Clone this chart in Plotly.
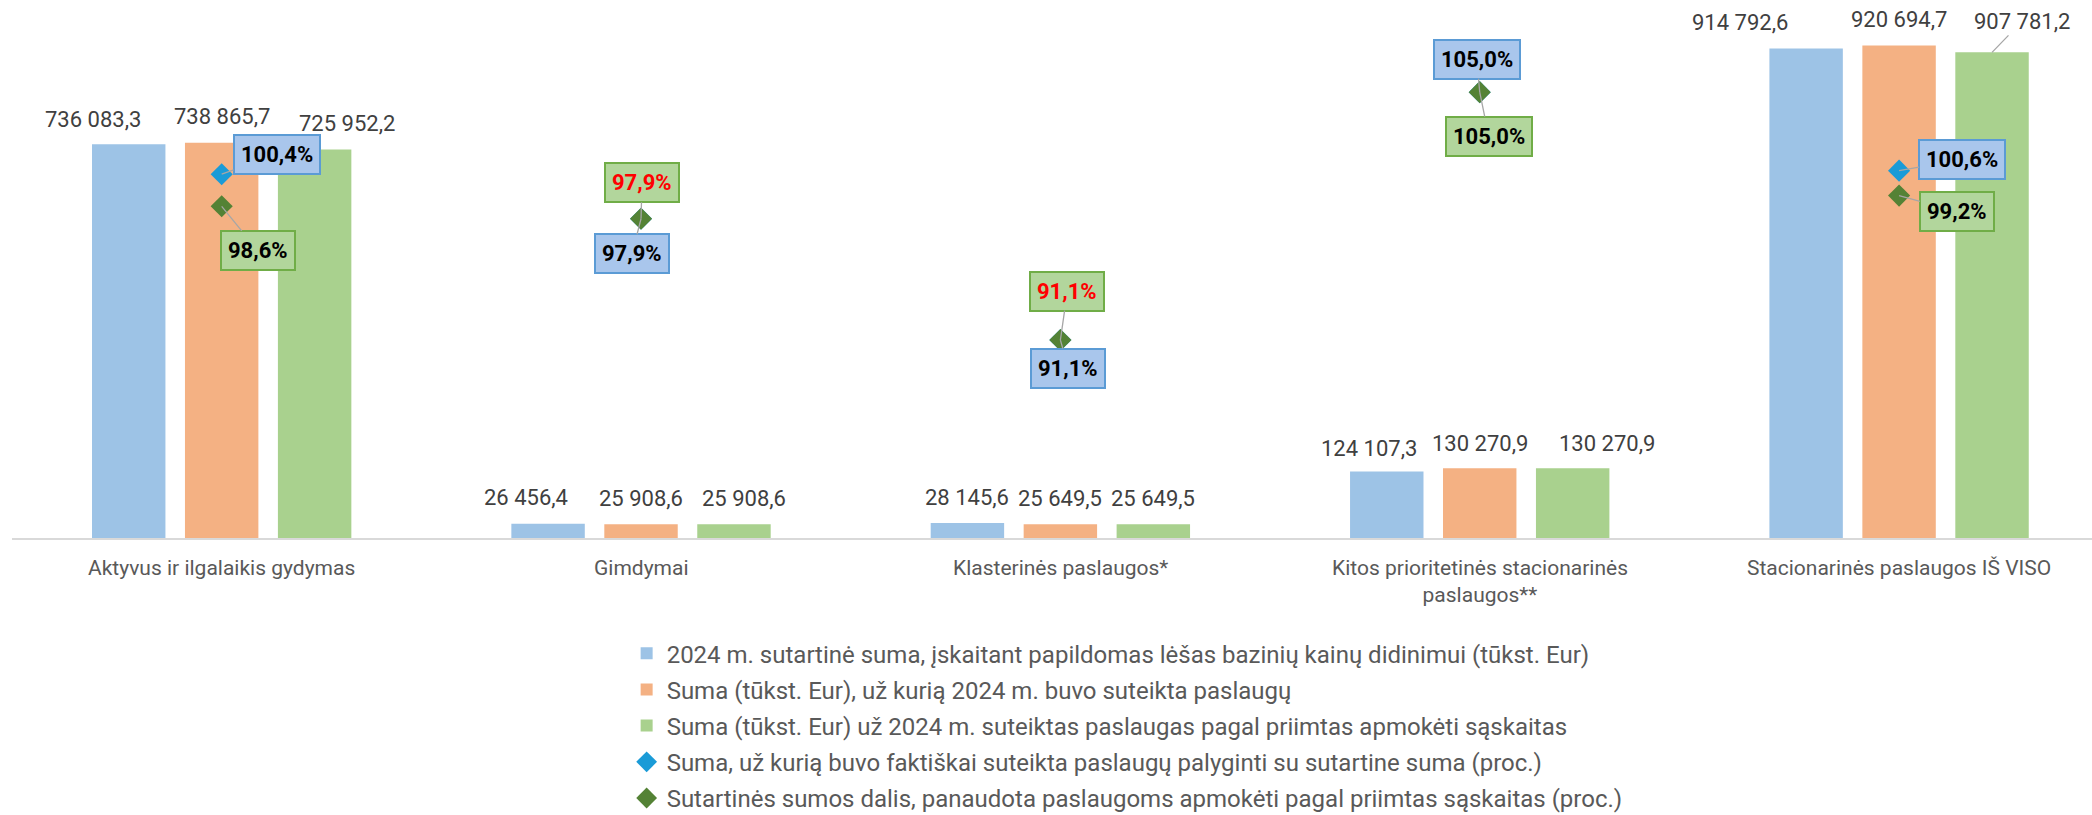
import plotly.graph_objects as go

# ---------------- data ----------------
categories = [
    "Aktyvus ir ilgalaikis gydymas",
    "Gimdymai",
    "Klasterinės paslaugos*",
    "Kitos prioritetinės stacionarinės<br>paslaugos**",
    "Stacionarinės paslaugos IŠ VISO",
]
contract_sum = [736083.3, 26456.4, 28145.6, 124107.3, 914792.6]
provided_sum = [738865.7, 25908.6, 25649.5, 130270.9, 920694.7]
accepted_sum = [725952.2, 25908.6, 25649.5, 130270.9, 907781.2]
provided_pct = [100.4, 97.9, 91.1, 105.0, 100.6]
accepted_pct = [98.6, 97.9, 91.1, 105.0, 99.2]

series_names = [
    "2024 m. sutartinė suma, įskaitant papildomas lėšas bazinių kainų didinimui (tūkst. Eur)",
    "Suma (tūkst. Eur), už kurią 2024 m. buvo suteikta paslaugų",
    "Suma (tūkst. Eur) už 2024 m. suteiktas paslaugas pagal priimtas apmokėti sąskaitas",
    "Suma, už kurią buvo faktiškai suteikta paslaugų palyginti su sutartine suma (proc.)",
    "Sutartinės sumos dalis, panaudota paslaugoms apmokėti pagal priimtas sąskaitas (proc.)",
]

# ---------------- style ----------------
FONT = "Roboto"
BAR_COLORS = ["#9DC3E6", "#F4B183", "#A9D18E"]
BLUE_DIAMOND = "#1A9BD7"
GREEN_DIAMOND = "#548235"
LABEL_COLOR = "#404040"
CAT_COLOR = "#595959"
BARGAP = 0.335
BARGROUPGAP = 0.21
SLOT = (1 - BARGAP) / 3

# label pixel shifts (x, y) for the bar value labels
bar_label_shift = [
    [(-36, 25), (-22, 26), (0, 25), (-18, 23), (-66, 26)],
    [(0, 26), (0, 26), (0, 26), (0, 25), (0, 26)],
    [(32, 26), (10, 26), (0, 26), (34, 25), (30, 31)],
]
# percent box offsets (ax, ay)
prov_box = [(55, -20), (-9, 35), (8, 28), (-3, -33), (63, -11)]
acc_box = [(36, 44), (1, -36), (7, -49), (9, 44), (58, 16)]
acc_red = [False, True, True, False, False]

x_idx = list(range(len(categories)))


def fmt_num(v):
    return f"{v:,.1f}".replace(",", " ").replace(".", ",")


def fmt_pct(v):
    return f"{v:.1f}%".replace(".", ",")


fig = go.Figure()
for k, vals in enumerate([contract_sum, provided_sum, accepted_sum]):
    fig.add_trace(go.Bar(
        x=x_idx, y=vals, name=series_names[k],
        marker=dict(color=BAR_COLORS[k], line=dict(width=0)),
        legendgroup=f"g{k}", hoverinfo="skip",
    ))

fig.add_trace(go.Scatter(
    x=x_idx, y=provided_pct, yaxis="y2", mode="markers", name=series_names[3],
    marker=dict(symbol="diamond", size=17, color=BLUE_DIAMOND),
    legendgroup="g3", hoverinfo="skip",
))
fig.add_trace(go.Scatter(
    x=x_idx, y=accepted_pct, yaxis="y2", mode="markers", name=series_names[4],
    marker=dict(symbol="diamond", size=17, color=GREEN_DIAMOND),
    legendgroup="g4", hoverinfo="skip",
))

annotations = []
# bar value labels
for k, vals in enumerate([contract_sum, provided_sum, accepted_sum]):
    for i, v in enumerate(vals):
        dx, dy = bar_label_shift[k][i]
        xpos = i + (k - 1) * SLOT
        if k == 2 and i == 4:
            annotations.append(dict(
                x=xpos, y=v, xref="x", yref="y", text=fmt_num(v),
                showarrow=True, arrowhead=0, arrowwidth=1.3, arrowcolor="#A6A6A6",
                ax=dx, ay=-dy, standoff=0,
                font=dict(family=FONT, size=22, color=LABEL_COLOR),
            ))
        else:
            annotations.append(dict(
                x=xpos, y=v, xref="x", yref="y", text=fmt_num(v),
                showarrow=False, xshift=dx, yshift=dy,
                font=dict(family=FONT, size=22, color=LABEL_COLOR),
            ))

# percent boxes
for i in x_idx:
    ax, ay = prov_box[i]
    annotations.append(dict(
        x=i, y=provided_pct[i], xref="x", yref="y2", text="<b>" + fmt_pct(provided_pct[i]) + "</b>",
        showarrow=True, arrowhead=0, arrowwidth=1.3, arrowcolor="#A6A6A6",
        ax=ax, ay=ay, standoff=0,
        bgcolor="#A9C6EC", bordercolor="#5B9BD5", borderwidth=2, borderpad=6,
        font=dict(family=FONT, size=22, color="#000000"),
    ))
    ax, ay = acc_box[i]
    annotations.append(dict(
        x=i, y=accepted_pct[i], xref="x", yref="y2", text="<b>" + fmt_pct(accepted_pct[i]) + "</b>",
        showarrow=True, arrowhead=0, arrowwidth=1.3, arrowcolor="#A6A6A6",
        ax=ax, ay=ay, standoff=0,
        bgcolor="#B2D69C", bordercolor="#70AD47", borderwidth=2, borderpad=6,
        font=dict(family=FONT, size=22, color="#FF0000" if acc_red[i] else "#000000"),
    ))

# category labels
for i, c in enumerate(categories):
    annotations.append(dict(
        x=i, y=0, xref="x", yref="paper", text=c, showarrow=False,
        yanchor="top", yshift=-16,
        font=dict(family=FONT, size=21, color=CAT_COLOR),
    ))

W, H = 2092, 815
L, T, B = 12, 3, 277
plot_w = W - L
spacing = 419.35
x_max = -0.5 + plot_w / spacing

fig.update_layout(
    width=W, height=H,
    margin=dict(l=L, r=0, t=T, b=B, pad=0, autoexpand=False),
    paper_bgcolor="white", plot_bgcolor="white",
    barmode="group", bargap=BARGAP, bargroupgap=BARGROUPGAP,
    font=dict(family=FONT, size=22, color=CAT_COLOR),
    xaxis=dict(range=[-0.5, x_max], showgrid=False, zeroline=False,
               showline=True, linecolor="#D9D9D9", linewidth=2,
               showticklabels=False, ticks=""),
    yaxis=dict(range=[0, 1000000], visible=False, showgrid=False, zeroline=False),
    yaxis2=dict(range=[80, 110], overlaying="y", side="right", visible=False,
                showgrid=False, zeroline=False),
    legend=dict(orientation="v", x=0.2955, xanchor="left", y=-0.174, yanchor="top",
                font=dict(family=FONT, size=24, color=CAT_COLOR),
                tracegroupgap=2, bgcolor="rgba(0,0,0,0)"),
    annotations=annotations,
    showlegend=True,
)

fig.write_html("out.html", config={"displayModeBar": False},
               post_script="document.body.style.margin='0';")
